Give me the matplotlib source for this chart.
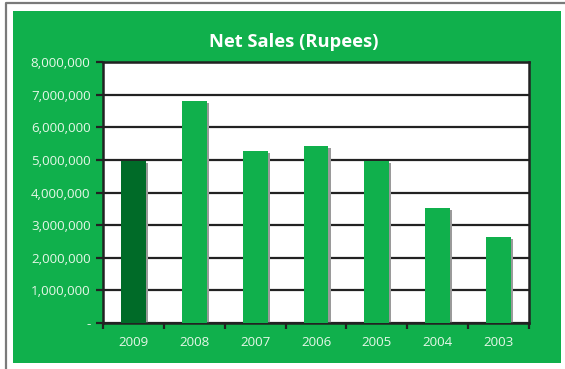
import matplotlib.pyplot as plt
from matplotlib.patches import Rectangle
from matplotlib.lines import Line2D
import numpy as np

years = ['2009', '2008', '2007', '2006', '2005', '2004', '2003']
net_sales = [4980000, 6810000, 5280000, 5430000, 4970000, 3520000, 2630000]
yticks = [0, 1000000, 2000000, 3000000, 4000000, 5000000, 6000000, 7000000, 8000000]
ytick_labels = ['-', '1,000,000', '2,000,000', '3,000,000', '4,000,000',
                '5,000,000', '6,000,000', '7,000,000', '8,000,000']

green = '#10b04c'
dark_green = '#006b28'
txt = '#e6f7e8'

W, H = 565, 369
fig = plt.figure(figsize=(W / 100, H / 100), dpi=100)
fig.patch.set_facecolor('white')

# outer frame line and green panel
fig.add_artist(Line2D([5.5 / W, 5.5 / W, 1], [0, 1 - 2.5 / H, 1 - 2.5 / H],
                      transform=fig.transFigure, color='#7a7a7a', lw=1.6))
fig.add_artist(Rectangle((13 / W, 1 - 363 / H), (561 - 13) / W, (363 - 11) / H,
                         transform=fig.transFigure, facecolor=green, edgecolor='none', zorder=0))

ax = fig.add_axes([103 / W, 1 - 323 / H, (529 - 103) / W, (323 - 62) / H])
ax.set_facecolor('white')

x = np.arange(len(years))
colors = [dark_green] + [green] * (len(years) - 1)
# drop shadow behind each bar
ax.bar(x + 0.035, np.array(net_sales) - 70000, width=0.41, color='#9a9a9a', zorder=2)
ax.bar(x, net_sales, width=0.41, color=colors, zorder=3)

ax.set_xlim(-0.5, len(years) - 0.5)
ax.set_ylim(0, 8000000)
ax.set_yticks(yticks)
ax.set_yticklabels(ytick_labels)
ax.set_xticks(x)
ax.set_xticklabels(years)
ax.set_xticks(np.arange(len(years) + 1) - 0.5, minor=True)
ax.tick_params(axis='x', which='major', length=0, pad=9)
ax.tick_params(axis='x', which='minor', length=4, width=1.6, color='#222222', direction='out')
ax.tick_params(axis='y', length=5, width=1.6, color='#222222', pad=4)
for lab in ax.get_xticklabels() + ax.get_yticklabels():
    lab.set_color(txt)
    lab.set_fontsize(9.6)
    lab.set_family('Open Sans')

ax.grid(axis='y', color='#222222', lw=1.6, zorder=1)
ax.set_axisbelow(True)
for s in ax.spines.values():
    s.set_color('#222222')
    s.set_linewidth(1.8)

fig.text(294 / W, 1 - 42 / H, 'Net Sales (Rupees)', color='white', fontsize=13.2,
         fontweight='bold', family='Open Sans', ha='center', va='center')

fig.savefig('out.png', dpi=100, facecolor=fig.get_facecolor())
